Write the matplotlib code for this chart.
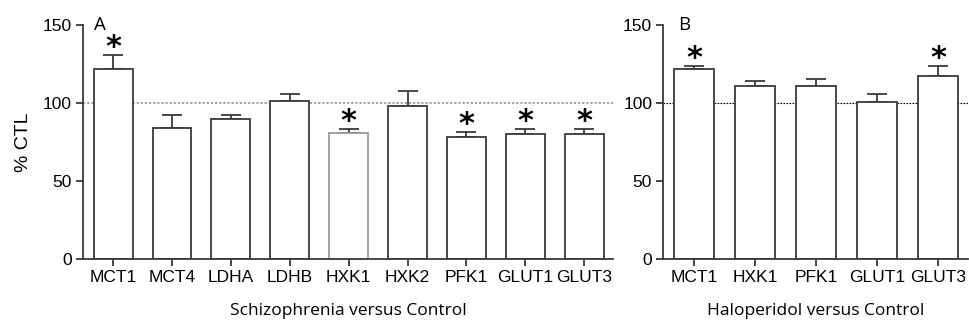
import matplotlib.pyplot as plt

# panel A: schizophrenia vs control
genesA = ["MCT1", "MCT4", "LDHA", "LDHB", "HXK1", "HXK2", "PFK1", "GLUT1", "GLUT3"]
meansA = [121.8, 84.2, 89.9, 101.3, 81.0, 98.0, 78.4, 80.1, 80.3]
semA = [8.8, 8.1, 2.2, 4.3, 2.5, 9.5, 3.1, 3.0, 3.2]
sigA = [True, False, False, False, True, False, True, True, True]

# panel B: haloperidol vs control
genesB = ["MCT1", "HXK1", "PFK1", "GLUT1", "GLUT3"]
meansB = [121.9, 110.8, 110.6, 100.5, 117.0]
semB = [2.1, 3.4, 5.1, 5.1, 6.8]
sigB = [True, False, False, False, True]

plt.rcParams['font.family'] = ['Liberation Sans', 'DejaVu Sans']
edge = "#3a3a3a"

fig = plt.figure(figsize=(9.69, 3.24), dpi=100)
axA = fig.add_axes([0.0857, 0.2006, 0.547, 0.7222])
axB = fig.add_axes([0.6845, 0.2006, 0.3145, 0.7222])


def draw(ax, genes, means, sem, sig, refcolor, reflw, letter, letter_dx, xlabel, greybars=()):
    x = list(range(len(genes)))
    edges = ["#9a9a9a" if g in greybars else edge for g in genes]
    ax.axhline(100, color=refcolor, lw=reflw, ls=(0, (1.5, 1.2)), zorder=1)
    ax.bar(x, means, width=0.66, color="white", edgecolor=edges, linewidth=1.3, zorder=2)
    ax.errorbar(x, means, yerr=[[0] * len(sem), sem], fmt="none", ecolor=edge,
                elinewidth=1.3, capsize=7.2, capthick=1.3, zorder=1.5)
    for xi, m, s, star in zip(x, means, sem, sig):
        if star:
            ax.annotate("*", (xi, m + s), xytext=(0, -5), textcoords="offset points",
                        ha="center", va="bottom", fontsize=22, fontweight="bold",
                        family="DejaVu Sans")
    ax.set_ylim(0, 150)
    ax.set_xlim(-0.51, len(genes) - 0.51)
    ax.set_yticks([0, 50, 100, 150])
    ax.set_xticks(x)
    ax.set_xticklabels(genes)
    for sp in ["top", "right"]:
        ax.spines[sp].set_visible(False)
    for sp in ["left", "bottom"]:
        ax.spines[sp].set_linewidth(1.3)
        ax.spines[sp].set_color(edge)
    ax.tick_params(axis="both", length=5, width=1.3, color=edge, labelsize=12.5, pad=3)
    ax.set_xlabel(xlabel, family="Open Sans", fontsize=12.5, labelpad=13)
    ax.annotate(letter, (0, 1.0), xycoords="axes fraction", xytext=(letter_dx, 0),
                textcoords="offset points", fontsize=13.5, va="center", family="Open Sans")


draw(axA, genesA, meansA, semA, sigA, "#8a8a8a", 1.1, "A", 8, "Schizophrenia versus Control",
     greybars=("HXK1",))
draw(axB, genesB, meansB, semB, sigB, "black", 0.8, "B", 11, "Haloperidol versus Control")
axA.set_ylabel("% CTL", fontsize=14, labelpad=8)

fig.savefig("out.png", dpi=100)
